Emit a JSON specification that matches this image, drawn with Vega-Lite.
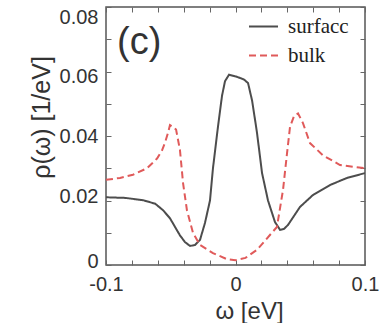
{
  "$schema": "https://vega.github.io/schema/vega-lite/v6.json",
  "width": 259,
  "height": 258,
  "autosize": {"type": "none"},
  "padding": {"left": 106, "top": 7, "right": 14, "bottom": 58},
  "background": "white",
  "config": {
    "view": {"stroke": "#555555", "strokeWidth": 1.5},
    "font": "Liberation Sans",
    "axis": {
      "grid": false,
      "domain": false,
      "tickColor": "#666666",
      "tickSize": -5,
      "tickWidth": 1,
      "labelFont": "Liberation Sans",
      "labelFontSize": 20,
      "labelColor": "#333333",
      "titleFont": "Liberation Sans",
      "titleFontWeight": "normal",
      "titleColor": "#333333"
    }
  },
  "layer": [
    {
      "data": {
        "values": [
          {"omega": -0.1, "rho": 0.021, "series": "surfacc"},
          {"omega": -0.085, "rho": 0.0208, "series": "surfacc"},
          {"omega": -0.0714, "rho": 0.0201, "series": "surfacc"},
          {"omega": -0.062, "rho": 0.019, "series": "surfacc"},
          {"omega": -0.056, "rho": 0.017, "series": "surfacc"},
          {"omega": -0.0506, "rho": 0.0145, "series": "surfacc"},
          {"omega": -0.0467, "rho": 0.0118, "series": "surfacc"},
          {"omega": -0.0429, "rho": 0.0092, "series": "surfacc"},
          {"omega": -0.039, "rho": 0.0071, "series": "surfacc"},
          {"omega": -0.0351, "rho": 0.0059, "series": "surfacc"},
          {"omega": -0.0313, "rho": 0.0062, "series": "surfacc"},
          {"omega": -0.0274, "rho": 0.0078, "series": "surfacc"},
          {"omega": -0.0236, "rho": 0.013, "series": "surfacc"},
          {"omega": -0.0197, "rho": 0.02, "series": "surfacc"},
          {"omega": -0.0174, "rho": 0.03, "series": "surfacc"},
          {"omega": -0.0135, "rho": 0.043, "series": "surfacc"},
          {"omega": -0.0104, "rho": 0.0525, "series": "surfacc"},
          {"omega": -0.0081, "rho": 0.057, "series": "surfacc"},
          {"omega": -0.005, "rho": 0.059, "series": "surfacc"},
          {"omega": 0.0, "rho": 0.0585, "series": "surfacc"},
          {"omega": 0.0035, "rho": 0.058, "series": "surfacc"},
          {"omega": 0.0066, "rho": 0.0575, "series": "surfacc"},
          {"omega": 0.0097, "rho": 0.0564, "series": "surfacc"},
          {"omega": 0.0128, "rho": 0.051, "series": "surfacc"},
          {"omega": 0.0151, "rho": 0.045, "series": "surfacc"},
          {"omega": 0.0166, "rho": 0.041, "series": "surfacc"},
          {"omega": 0.0205, "rho": 0.0285, "series": "surfacc"},
          {"omega": 0.0251, "rho": 0.02, "series": "surfacc"},
          {"omega": 0.0305, "rho": 0.0133, "series": "surfacc"},
          {"omega": 0.0344, "rho": 0.0109, "series": "surfacc"},
          {"omega": 0.0375, "rho": 0.0112, "series": "surfacc"},
          {"omega": 0.0405, "rho": 0.0124, "series": "surfacc"},
          {"omega": 0.0498, "rho": 0.018, "series": "surfacc"},
          {"omega": 0.0598, "rho": 0.0217, "series": "surfacc"},
          {"omega": 0.073, "rho": 0.0248, "series": "surfacc"},
          {"omega": 0.0861, "rho": 0.027, "series": "surfacc"},
          {"omega": 0.1, "rho": 0.0285, "series": "surfacc"},
          {"omega": -0.1, "rho": 0.0264, "series": "bulk"},
          {"omega": -0.0892, "rho": 0.027, "series": "bulk"},
          {"omega": -0.0792, "rho": 0.028, "series": "bulk"},
          {"omega": -0.0683, "rho": 0.03, "series": "bulk"},
          {"omega": -0.0606, "rho": 0.033, "series": "bulk"},
          {"omega": -0.0568, "rho": 0.0355, "series": "bulk"},
          {"omega": -0.0544, "rho": 0.038, "series": "bulk"},
          {"omega": -0.0521, "rho": 0.041, "series": "bulk"},
          {"omega": -0.0506, "rho": 0.0434, "series": "bulk"},
          {"omega": -0.0483, "rho": 0.0428, "series": "bulk"},
          {"omega": -0.0459, "rho": 0.042, "series": "bulk"},
          {"omega": -0.0429, "rho": 0.0357, "series": "bulk"},
          {"omega": -0.0405, "rho": 0.0254, "series": "bulk"},
          {"omega": -0.0375, "rho": 0.017, "series": "bulk"},
          {"omega": -0.0328, "rho": 0.0099, "series": "bulk"},
          {"omega": -0.0274, "rho": 0.0062, "series": "bulk"},
          {"omega": -0.0174, "rho": 0.0037, "series": "bulk"},
          {"omega": -0.0066, "rho": 0.0018, "series": "bulk"},
          {"omega": 0.0, "rho": 0.0015, "series": "bulk"},
          {"omega": 0.0077, "rho": 0.0022, "series": "bulk"},
          {"omega": 0.0166, "rho": 0.0047, "series": "bulk"},
          {"omega": 0.0266, "rho": 0.0093, "series": "bulk"},
          {"omega": 0.032, "rho": 0.0118, "series": "bulk"},
          {"omega": 0.0367, "rho": 0.0233, "series": "bulk"},
          {"omega": 0.0398, "rho": 0.0347, "series": "bulk"},
          {"omega": 0.0421, "rho": 0.0428, "series": "bulk"},
          {"omega": 0.0452, "rho": 0.0462, "series": "bulk"},
          {"omega": 0.0483, "rho": 0.047, "series": "bulk"},
          {"omega": 0.0521, "rho": 0.044, "series": "bulk"},
          {"omega": 0.0575, "rho": 0.0378, "series": "bulk"},
          {"omega": 0.0676, "rho": 0.034, "series": "bulk"},
          {"omega": 0.0807, "rho": 0.031, "series": "bulk"},
          {"omega": 0.1, "rho": 0.03, "series": "bulk"}
        ]
      },
      "mark": {"type": "line", "strokeWidth": 2, "clip": true},
      "encoding": {
        "x": {
          "field": "omega",
          "type": "quantitative",
          "scale": {"domain": [-0.1, 0.1], "nice": false, "zero": false},
          "axis": {
            "orient": "bottom",
            "values": [-0.1, -0.08, -0.06, -0.04, -0.02, 0, 0.02, 0.04, 0.06, 0.08, 0.1],
            "labelExpr": "abs(datum.value) < 0.001 ? '0' : datum.value < -0.099 ? '-0.1' : datum.value > 0.099 ? '0.1' : ''",
            "labelPadding": 14,
            "labelFlush": false,
            "title": "ω [eV]",
            "titleFontSize": 24,
            "titlePadding": 5,
            "titleX": 143
          }
        },
        "y": {
          "field": "rho",
          "type": "quantitative",
          "scale": {"domain": [0, 0.08], "nice": false},
          "axis": {
            "orient": "left",
            "values": [0, 0.01, 0.02, 0.03, 0.04, 0.05, 0.06, 0.07, 0.08],
            "format": ".2~f",
            "labelExpr": "round(datum.value * 100) % 2 == 0 ? datum.label : ''",
            "labelOffset": {
              "condition": [
                {"test": "datum.value > 0.075", "value": 10},
                {"test": "datum.value > 0.055", "value": 5},
                {"test": "datum.value < 0.005", "value": -4},
                {"test": "datum.value < 0.025", "value": -4}
              ],
              "value": 0
            },
            "labelPadding": 13,
            "labelFlush": false,
            "title": "ρ(ω) [1/eV]",
            "titleFontSize": 25,
            "titlePadding": 5,
            "titleY": 110
          }
        },
        "color": {
          "field": "series",
          "type": "nominal",
          "scale": {"domain": ["surfacc", "bulk"], "range": ["#4d4d4d", "#e05a5a"]},
          "legend": {
            "title": null,
            "orient": "none",
            "legendX": 142,
            "legendY": 4,
            "labelFont": "Liberation Serif",
            "labelFontSize": 21,
            "labelColor": "#222222",
            "labelOffset": 9,
            "symbolType": "stroke",
            "symbolSize": 841,
            "symbolStrokeWidth": 2,
            "rowPadding": 3
          }
        },
        "strokeDash": {
          "field": "series",
          "type": "nominal",
          "scale": {"domain": ["surfacc", "bulk"], "range": [[1, 0], [7, 4]]},
          "legend": null
        }
      }
    },
    {
      "data": {"values": [{"omega": -0.0915, "rho": 0.0688, "tag": "(c)"}]},
      "mark": {"type": "text", "align": "left", "baseline": "middle", "fontSize": 38, "font": "Liberation Sans", "color": "#333333"},
      "encoding": {
        "x": {
          "field": "omega",
          "type": "quantitative",
          "axis": {
            "orient": "top",
            "values": [-0.1, -0.08, -0.06, -0.04, -0.02, 0, 0.02, 0.04, 0.06, 0.08, 0.1],
            "labels": false,
            "title": null
          }
        },
        "y": {
          "field": "rho",
          "type": "quantitative",
          "axis": {
            "orient": "right",
            "values": [0, 0.01, 0.02, 0.03, 0.04, 0.05, 0.06, 0.07, 0.08],
            "labels": false,
            "title": null
          }
        },
        "text": {"field": "tag"}
      }
    }
  ],
  "resolve": {"axis": {"x": "independent", "y": "independent"}}
}
